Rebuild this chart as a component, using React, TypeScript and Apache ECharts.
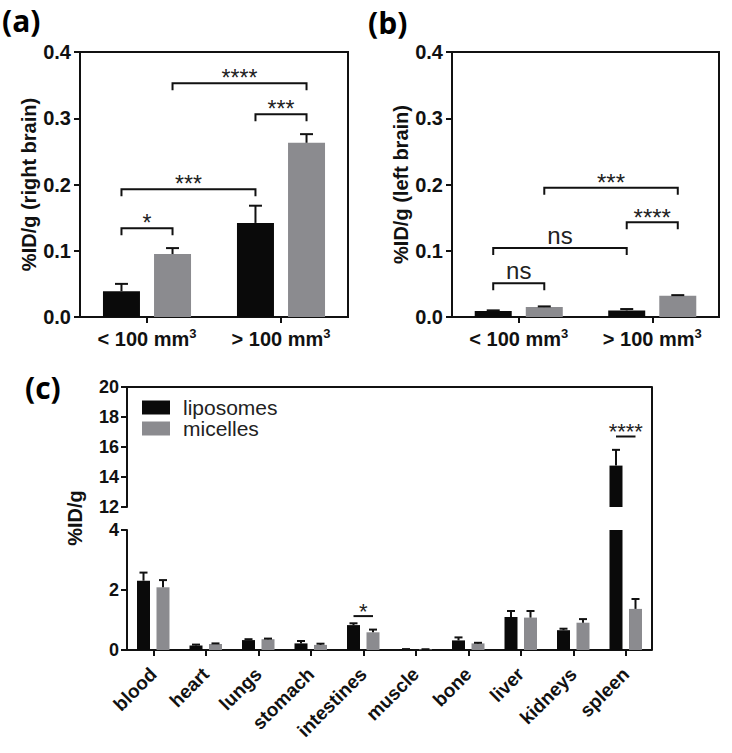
import React, { useEffect, useRef } from 'react';
import * as echarts from 'echarts';

// ---------- data ----------
const sizeCategories = ['< 100 mm3', '> 100 mm3'];
const rightBrainLiposomes = [0.039, 0.142];
const rightBrainLiposomesErr = [0.011, 0.026];
const rightBrainMicelles = [0.095, 0.263];
const rightBrainMicellesErr = [0.009, 0.013];
const leftBrainLiposomes = [0.009, 0.010];
const leftBrainLiposomesErr = [0.001, 0.002];
const leftBrainMicelles = [0.015, 0.032];
const leftBrainMicellesErr = [0.001, 0.001];

const organs = ['blood', 'heart', 'lungs', 'stomach', 'intestines', 'muscle', 'bone', 'liver', 'kidneys', 'spleen'];
const organLiposomes = [2.31, 0.15, 0.33, 0.22, 0.83, 0.02, 0.32, 1.10, 0.66, 14.76];
const organLiposomesErr = [0.27, 0.03, 0.03, 0.08, 0.06, 0.01, 0.10, 0.20, 0.05, 1.05];
const organMicelles = [2.09, 0.20, 0.36, 0.17, 0.59, 0.02, 0.22, 1.08, 0.91, 1.37];
const organMicellesErr = [0.24, 0.02, 0.02, 0.04, 0.09, 0.005, 0.02, 0.22, 0.12, 0.33];

// significance: [categoryA, seriesA, categoryB, seriesB, yValue, label]
const sigRightBrain: any[] = [
  [0, 0, 0, 1, 0.134, '*'],
  [0, 0, 1, 0, 0.193, '***'],
  [1, 0, 1, 1, 0.306, '***'],
  [0, 1, 1, 1, 0.353, '****'],
];
const sigLeftBrain: any[] = [
  [0, 0, 0, 1, 0.051, 'ns'],
  [0, 0, 1, 0, 0.104, 'ns'],
  [1, 0, 1, 1, 0.143, '****'],
  [0, 1, 1, 1, 0.195, '***'],
];
const sigOrgansLow: any[] = [[4, 0, 4, 1, 1.13, '*']];
const sigOrgansHigh: any[] = [[9, 0, 9, 1, 16.7, '****']];

const brainRange = { min: 0, max: 0.4, interval: 0.1 };
const organHighRange = { min: 12, max: 20, interval: 2 };
const organLowRange = { min: 0, max: 4, interval: 2 };

// ---------- styles ----------
const FONT = '"Liberation Sans", Arial, sans-serif';
const PANEL_FONT = '"Open Sans", sans-serif';
const BLACK = '#0a0a0a';
const GRAY = '#8b8b8f';
const LINE = '#111';

const AB_BAR_W = 37;
const AB_GAP = 0.38;
const AB_OFF = (AB_BAR_W * (1 + AB_GAP)) / 2;
const C_BAR_W = 13;
const C_GAP = 0.5;
const C_OFF = (C_BAR_W * (1 + C_GAP)) / 2;

function errRenderer(off: number, cap: number) {
  return (params: any, api: any) => {
    const cat = api.value(0);
    const v = api.value(1);
    const e = api.value(2);
    const p0 = api.coord([cat, v]);
    const p1 = api.coord([cat, v + e]);
    const x = p0[0] + off;
    return {
      type: 'group',
      children: [
        { type: 'line', shape: { x1: x, y1: p0[1], x2: x, y2: p1[1] }, style: { stroke: LINE, lineWidth: 2 } },
        { type: 'line', shape: { x1: x - cap / 2, y1: p1[1], x2: x + cap / 2, y2: p1[1] }, style: { stroke: LINE, lineWidth: 2 } },
      ],
    };
  };
}

function sigRenderer(rows: any[], off: number, leg: number, fontSize: number) {
  return (params: any, api: any) => {
    const r = rows[params.dataIndex];
    const pa = api.coord([r[0], r[4]]);
    const pb = api.coord([r[2], r[4]]);
    const xa = pa[0] + (r[1] === 0 ? -off : off);
    const xb = pb[0] + (r[3] === 0 ? -off : off);
    const y = pa[1];
    const label = r[5];
    const isNs = label === 'ns';
    const pts = leg > 0 ? [[xa, y + leg], [xa, y], [xb, y], [xb, y + leg]] : [[xa, y], [xb, y]];
    return {
      type: 'group',
      children: [
        { type: 'polyline', shape: { points: pts }, style: { stroke: LINE, lineWidth: 2, fill: null } },
        {
          type: 'text',
          x: (xa + xb) / 2,
          y: isNs ? y - 13 : y - 5,
          style: { text: label, fontSize, fontFamily: FONT, fill: '#222', align: 'center', verticalAlign: 'middle' },
        },
      ],
    };
  };
}

function errSeries(values: number[], errs: number[], xi: number, off: number, cap: number) {
  return {
    type: 'custom',
    xAxisIndex: xi,
    yAxisIndex: xi,
    clip: true,
    z: 5,
    silent: true,
    data: values.map((v, i) => [i, v, errs[i]]),
    encode: { x: 0, y: 1 },
    renderItem: errRenderer(off, cap),
  };
}

function sigSeries(rows: any[], xi: number, off: number, leg: number, fontSize: number) {
  return {
    type: 'custom',
    xAxisIndex: xi,
    yAxisIndex: xi,
    z: 6,
    silent: true,
    data: rows.map((r) => [r[0], r[4]]),
    encode: { x: 0, y: 1 },
    renderItem: sigRenderer(rows, off, leg, fontSize),
  };
}

function barSeries(name: string, data: number[], xi: number, color: string, w: number, gap: number) {
  return {
    type: 'bar',
    name,
    xAxisIndex: xi,
    yAxisIndex: xi,
    data,
    barWidth: w,
    barGap: `${Math.round(gap * 100)}%`,
    itemStyle: { color },
    clip: true,
    silent: true,
  };
}

const axisLine = { show: true, lineStyle: { color: LINE, width: 2 } };

function brainYAxis(gridIndex: number, name: string) {
  return {
    type: 'value',
    gridIndex,
    ...brainRange,
    name,
    nameLocation: 'middle',
    nameRotate: 90,
    nameGap: 41,
    nameTextStyle: { fontFamily: FONT, fontWeight: 'bold', fontSize: 20, color: '#111' },
    axisLine,
    axisTick: { show: true, length: 6, lineStyle: { color: LINE, width: 2 } },
    axisLabel: { fontFamily: FONT, fontWeight: 'bold', fontSize: 20, color: '#111', margin: 9, formatter: (v: number) => v.toFixed(1) },
    splitLine: { show: false },
  };
}

function brainXAxis(gridIndex: number) {
  return {
    type: 'category',
    gridIndex,
    data: sizeCategories,
    axisLine,
    axisTick: { show: true, alignWithLabel: true, length: 6, lineStyle: { color: LINE, width: 2 } },
    axisLabel: {
      margin: 10,
      formatter: (v: string) => `{a|${v.slice(0, -1)}}{s|${v.slice(-1)}}`,
      rich: {
        a: { fontFamily: FONT, fontWeight: 'bold', fontSize: 20, color: '#111', verticalAlign: 'bottom', lineHeight: 22 },
        s: { fontFamily: FONT, fontWeight: 'bold', fontSize: 13, color: '#111', verticalAlign: 'top', lineHeight: 22 },
      },
    },
  };
}

export default function App() {
  const ref = useRef<HTMLDivElement>(null);
  useEffect(() => {
    if (!ref.current) return;
    const chart = echarts.init(ref.current, null, { renderer: 'svg' });
    const option: any = {
      animation: false,
      backgroundColor: '#fff',
      textStyle: { fontFamily: FONT },
      grid: [
        { left: 80, top: 52, width: 268, height: 265, show: true, borderColor: LINE, borderWidth: 2, backgroundColor: 'transparent' },
        { left: 452, top: 52, width: 267, height: 265, show: true, borderColor: LINE, borderWidth: 2, backgroundColor: 'transparent' },
        { left: 127, top: 387, width: 525, height: 120 },
        { left: 127, top: 530, width: 525, height: 120 },
      ],
      xAxis: [
        brainXAxis(0),
        brainXAxis(1),
        {
          type: 'category',
          gridIndex: 2,
          data: organs,
          position: 'top',
          axisLine,
          axisTick: { show: false },
          axisLabel: { show: false },
        },
        {
          type: 'category',
          gridIndex: 3,
          data: organs,
          axisLine,
          axisTick: { show: true, alignWithLabel: true, length: 6, lineStyle: { color: LINE, width: 2 } },
          axisLabel: { fontFamily: FONT, fontWeight: 'bold', fontSize: 19, color: '#111', rotate: 45, margin: 21, interval: 0 },
        },
      ],
      yAxis: [
        brainYAxis(0, '%ID/g (right brain)'),
        brainYAxis(1, '%ID/g (left brain)'),
        {
          type: 'value',
          gridIndex: 2,
          ...organHighRange,
          axisLine,
          axisTick: { show: true, length: 6, lineStyle: { color: LINE, width: 2 } },
          axisLabel: { fontFamily: FONT, fontWeight: 'bold', fontSize: 18, color: '#111', margin: 8 },
          splitLine: { show: false },
        },
        {
          type: 'value',
          gridIndex: 3,
          ...organLowRange,
          axisLine,
          axisTick: { show: true, length: 6, lineStyle: { color: LINE, width: 2 } },
          axisLabel: { fontFamily: FONT, fontWeight: 'bold', fontSize: 18, color: '#111', margin: 8 },
          splitLine: { show: false },
        },
      ],
      legend: {
        data: ['liposomes', 'micelles'],
        orient: 'vertical',
        left: 137,
        top: 392,
        itemWidth: 28,
        itemHeight: 14,
        itemGap: 0,
        icon: 'rect',
        selectedMode: false,
        textStyle: { fontFamily: FONT, fontSize: 21, color: '#222', lineHeight: 20, padding: [0, 0, 0, 8] },
      },
      graphic: [
        { type: 'text', left: 2, top: 5, style: { text: '(a)', fontFamily: PANEL_FONT, fontWeight: 'bold', fontSize: 30, fill: '#000' } },
        { type: 'text', left: 368, top: 7, style: { text: '(b)', fontFamily: PANEL_FONT, fontWeight: 'bold', fontSize: 30, fill: '#000' } },
        { type: 'text', left: 25, top: 372, style: { text: '(c)', fontFamily: PANEL_FONT, fontWeight: 'bold', fontSize: 30, fill: '#000' } },
        {
          type: 'text',
          x: 75,
          y: 518,
          rotation: Math.PI / 2,
          style: { text: '%ID/g', fontFamily: FONT, fontWeight: 'bold', fontSize: 20, fill: '#111', align: 'center', verticalAlign: 'middle' },
        },
        { type: 'line', shape: { x1: 652, y1: 387, x2: 652, y2: 650 }, style: { stroke: LINE, lineWidth: 2 } },
      ],
      series: [
        barSeries('liposomes', rightBrainLiposomes, 0, BLACK, AB_BAR_W, AB_GAP),
        barSeries('micelles', rightBrainMicelles, 0, GRAY, AB_BAR_W, AB_GAP),
        barSeries('liposomes', leftBrainLiposomes, 1, BLACK, AB_BAR_W, AB_GAP),
        barSeries('micelles', leftBrainMicelles, 1, GRAY, AB_BAR_W, AB_GAP),
        barSeries('liposomes', organLiposomes, 2, BLACK, C_BAR_W, C_GAP),
        barSeries('micelles', organMicelles, 2, GRAY, C_BAR_W, C_GAP),
        barSeries('liposomes', organLiposomes, 3, BLACK, C_BAR_W, C_GAP),
        barSeries('micelles', organMicelles, 3, GRAY, C_BAR_W, C_GAP),
        errSeries(rightBrainLiposomes, rightBrainLiposomesErr, 0, -AB_OFF, 13),
        errSeries(rightBrainMicelles, rightBrainMicellesErr, 0, AB_OFF, 13),
        errSeries(leftBrainLiposomes, leftBrainLiposomesErr, 1, -AB_OFF, 13),
        errSeries(leftBrainMicelles, leftBrainMicellesErr, 1, AB_OFF, 13),
        errSeries(organLiposomes, organLiposomesErr, 2, -C_OFF, 8),
        errSeries(organMicelles, organMicellesErr, 2, C_OFF, 8),
        errSeries(organLiposomes, organLiposomesErr, 3, -C_OFF, 8),
        errSeries(organMicelles, organMicellesErr, 3, C_OFF, 8),
        sigSeries(sigRightBrain, 0, AB_OFF, 7, 23),
        sigSeries(sigLeftBrain, 1, AB_OFF, 7, 24),
        sigSeries(sigOrgansHigh, 2, C_OFF, 0, 22),
        sigSeries(sigOrgansLow, 3, C_OFF, 0, 22),
      ],
    };
    chart.setOption(option);
    return () => chart.dispose();
  }, []);
  return <div ref={ref} style={{ position: 'fixed', left: 0, top: 0, width: 732, height: 753, background: '#fff' }} />;
}
